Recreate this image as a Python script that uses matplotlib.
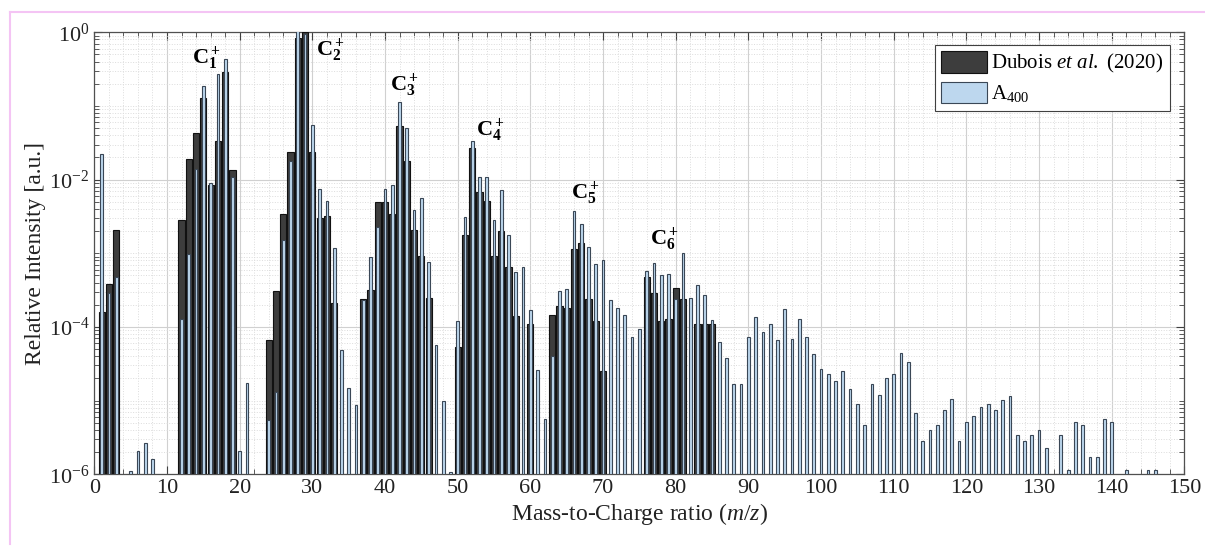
import matplotlib
matplotlib.use("Agg")
import matplotlib.pyplot as plt
from matplotlib.lines import Line2D
from matplotlib.ticker import LogLocator, MultipleLocator, NullFormatter
import numpy as np

plt.rcParams["font.family"] = ["Liberation Serif", "DejaVu Serif"]
plt.rcParams["mathtext.fontset"] = "custom"
plt.rcParams["mathtext.rm"] = "Liberation Serif"
plt.rcParams["mathtext.it"] = "Liberation Serif:italic"
plt.rcParams["mathtext.bf"] = "Liberation Serif:bold"

# Dubois et al. (2020) -- dark bars
dub_mz = [1, 2, 3, 12, 13, 14, 15, 16, 17, 18, 19,
          24, 25, 26, 27, 28, 29, 30, 31, 32, 33,
          37, 38, 39, 40, 41, 42, 43, 44, 45, 46,
          50, 51, 52, 53, 54, 55, 56, 57, 58, 60,
          63, 64, 65, 66, 67, 68, 69, 70,
          76, 77, 78, 79, 80, 81, 83, 84, 85]
dub_val = [1.6e-4, 3.8e-4, 2.1e-3, 2.8e-3, 1.9e-2, 4.3e-2, 1.3e-1, 8.5e-3, 3.3e-2, 2.9e-1, 1.35e-2,
           6.6e-5, 3.1e-4, 3.4e-3, 2.4e-2, 0.85, 1.0, 2.4e-2, 3.0e-3, 3.2e-3, 2.1e-4,
           2.4e-4, 3.2e-4, 4.9e-3, 4.9e-3, 3.4e-3, 5.4e-2, 1.8e-2, 2.1e-3, 9.2e-4, 2.5e-4,
           5.4e-5, 1.8e-3, 2.7e-2, 6.8e-3, 5.1e-3, 9.3e-4, 2.0e-3, 6.6e-4, 1.4e-4, 1.1e-4,
           1.45e-4, 1.9e-4, 1.8e-4, 1.15e-3, 1.4e-3, 2.4e-4, 1.2e-4, 2.5e-5,
           4.8e-4, 2.9e-4, 1.2e-4, 1.27e-4, 3.4e-4, 2.4e-4, 1.1e-4, 1.1e-4, 1.1e-4]

# A400 -- light blue bars
a400_mz = [1, 2, 3, 5, 6, 7, 8, 12, 13, 14, 15, 16, 17, 18, 19, 20, 21,
           24, 25, 26, 27, 28, 29, 30, 31, 32, 33, 34, 35, 36,
           37, 38, 39, 40, 41, 42, 43, 44, 45, 46, 47, 48, 49,
           50, 51, 52, 53, 54, 55, 56, 57, 58, 59, 60, 61, 62,
           63, 64, 65, 66, 67, 68, 69, 70, 71, 72, 73, 74, 75,
           76, 77, 78, 79, 80, 81, 82, 83, 84, 85, 86, 87, 88, 89,
           90, 91, 92, 93, 94, 95, 96, 97, 98, 99, 100, 101, 102, 103, 104,
           105, 106, 107, 108, 109, 110, 111, 112, 113, 114, 115, 116, 117, 118,
           119, 120, 121, 122, 123, 124, 125, 126, 127, 128, 129, 130, 131,
           133, 134, 135, 136, 137, 138, 139, 140, 142, 145, 146]
a400_val = [2.2e-2, 2.9e-4, 4.7e-4, 1.1e-6, 2.1e-6, 2.7e-6, 1.6e-6, 1.3e-4, 9.8e-4, 1.4e-2,
            1.85e-1, 9.1e-3, 2.7e-1, 4.4e-1, 1.1e-2, 2.1e-6, 1.75e-5,
            5.4e-6, 1.3e-5, 1.5e-3, 1.8e-2, 1.2, 0.94, 5.5e-2, 7.4e-3, 5.2e-3, 1.17e-3, 4.8e-5, 1.47e-5, 8.7e-6,
            2.3e-4, 8.9e-4, 2.3e-3, 7.5e-3, 8.5e-3, 1.15e-1, 5.1e-2, 3.9e-3, 5.7e-3, 7.7e-4, 5.7e-5, 9.9e-6, 1.07e-6,
            1.2e-4, 3.1e-3, 3.4e-2, 1.1e-2, 1.1e-2, 2.8e-3, 7.2e-3, 1.8e-3, 5.5e-4, 6.5e-4, 1.7e-4, 2.6e-5, 5.7e-6,
            4.0e-5, 3.1e-4, 3.3e-4, 3.8e-3, 2.5e-3, 1.2e-3, 7.2e-4, 8.1e-4, 2.35e-4, 1.8e-4, 1.47e-4, 7.4e-5, 9.5e-5,
            5.8e-4, 7.3e-4, 5.0e-4, 5.3e-4, 2.4e-4, 1.0e-3, 2.5e-4, 3.7e-4, 2.7e-4, 1.23e-4, 6.3e-5, 3.8e-5, 1.7e-5, 1.7e-5,
            7.4e-5, 1.36e-4, 8.5e-5, 1.1e-4, 6.6e-5, 1.78e-4, 6.8e-5, 1.29e-4, 7.2e-5, 4.3e-5, 2.7e-5, 2.3e-5, 1.85e-5, 2.5e-5, 1.43e-5,
            9.1e-6, 4.6e-6, 1.67e-5, 1.2e-5, 2.0e-5, 2.3e-5, 4.4e-5, 3.3e-5, 6.8e-6, 2.85e-6, 4.0e-6, 4.6e-6, 7.4e-6, 1.04e-5,
            2.85e-6, 5.1e-6, 6.2e-6, 8.1e-6, 9.1e-6, 7.4e-6, 1.02e-5, 1.16e-5, 3.4e-6, 2.85e-6, 3.4e-6, 4.0e-6, 2.3e-6,
            3.4e-6, 1.13e-6, 5.1e-6, 4.6e-6, 1.7e-6, 1.7e-6, 5.6e-6, 5.1e-6, 1.13e-6, 1.13e-6, 1.13e-6]

# peak annotations: label, m/z, height
peak_labels = [r"$\mathbf{C_1^+}$", r"$\mathbf{C_2^+}$", r"$\mathbf{C_3^+}$",
               r"$\mathbf{C_4^+}$", r"$\mathbf{C_5^+}$", r"$\mathbf{C_6^+}$"]
peak_x = [15.4, 32.5, 42.6, 54.5, 67.6, 78.5]
peak_y = [0.43, 0.56, 0.19, 0.046, 6.5e-3, 1.5e-3]

fig = plt.figure(figsize=(12.05, 5.46), dpi=100)
ax = fig.add_axes([0.0783, 0.1313, 0.9046, 0.8095])

ax.set_yscale("log")
ax.bar(dub_mz, dub_val, width=0.85, color="#3d3d3d", edgecolor="#111111",
       linewidth=0.8, label=r"Dubois $\mathit{et\ al.}$ (2020)", zorder=3)
ax.bar(a400_mz, a400_val, width=0.38, color="#bdd7ee", edgecolor="#3a4756",
       linewidth=0.8, label=r"A$_{400}$", zorder=4)

for lab, px, py in zip(peak_labels, peak_x, peak_y):
    ax.text(px, py, lab, ha="center", va="center", fontsize=16, zorder=5)

ax.set_xlim(0, 150)
ax.set_ylim(1e-6, 1)
ax.xaxis.set_major_locator(MultipleLocator(10))
ax.xaxis.set_minor_locator(MultipleLocator(2))
ax.yaxis.set_major_locator(LogLocator(base=100, numticks=10))
ax.yaxis.set_minor_locator(LogLocator(base=10, subs=np.arange(1, 10), numticks=20))
ax.yaxis.set_minor_formatter(NullFormatter())

ax.grid(which="major", color="#d0d0d0", linewidth=0.8, linestyle="-", zorder=0)
ax.grid(which="minor", color="#dcdcdc", linewidth=0.7, linestyle=":", zorder=0)
ax.set_axisbelow(True)

ax.tick_params(which="both", direction="in", top=True, right=True, colors="#404040",
               labelcolor="#222222")
ax.tick_params(which="major", length=6, labelsize=16)
ax.tick_params(which="minor", length=3.5)
for s in ax.spines.values():
    s.set_color("#505050")
    s.set_linewidth(0.9)

ax.set_xlabel(r"Mass-to-Charge ratio ($m/z$)", fontsize=17, color="#222222", labelpad=2)
ax.set_ylabel("Relative Intensity [a.u.]", fontsize=17, color="#222222", labelpad=2)

leg = ax.legend(loc="upper right", fontsize=15, frameon=True, fancybox=False,
                edgecolor="#404040", framealpha=1, handlelength=2.2, handleheight=1.2,
                borderpad=0.3, labelspacing=0.3, handletextpad=0.2,
                bbox_to_anchor=(0.996, 0.995))
leg.get_frame().set_linewidth(0.8)

# thin pink frame as in the source image
fig.add_artist(Line2D([10 / 1205, 10 / 1205], [0.004, 1 - 12 / 546], color="#f4c4f4", lw=1.5))
fig.add_artist(Line2D([10 / 1205, 1], [1 - 12 / 546, 1 - 12 / 546], color="#f4c4f4", lw=1.5))

fig.savefig("out.png", dpi=100)
